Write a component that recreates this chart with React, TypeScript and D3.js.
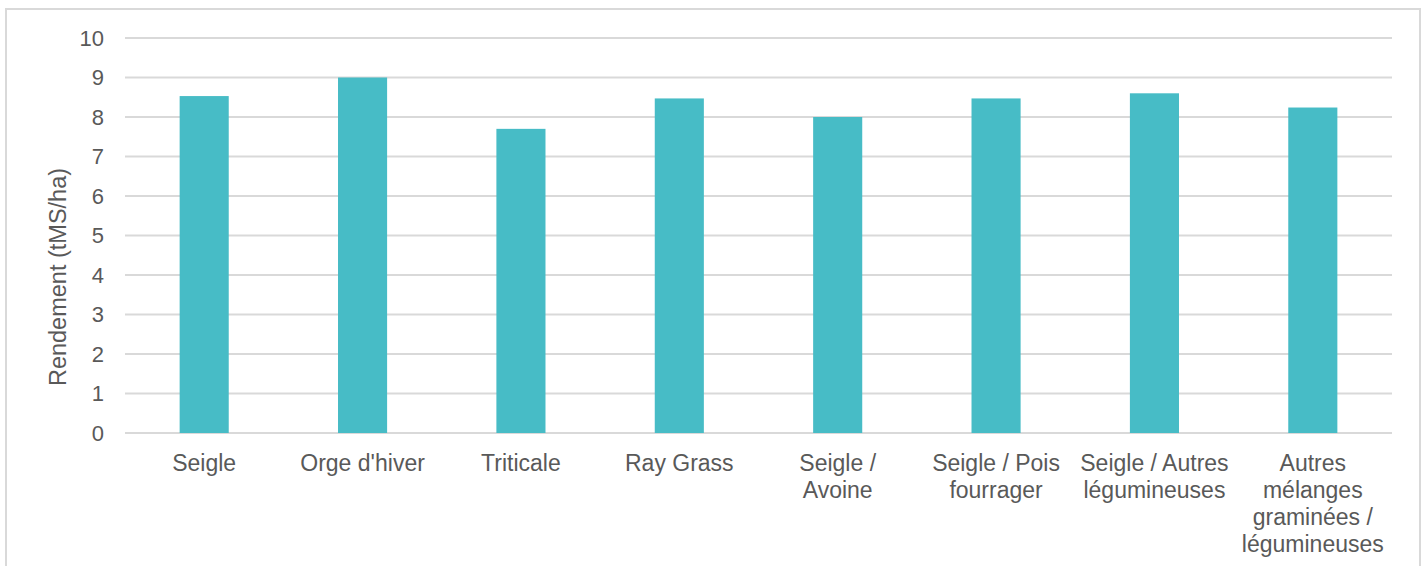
import React from "react";
import * as d3 from "d3";

const categories: string[][] = [
  ["Seigle"],
  ["Orge d'hiver"],
  ["Triticale"],
  ["Ray Grass"],
  ["Seigle /", "Avoine"],
  ["Seigle / Pois", "fourrager"],
  ["Seigle / Autres", "légumineuses"],
  ["Autres", "mélanges", "graminées /", "légumineuses"],
];
const rendement: number[] = [8.53, 9.0, 7.7, 8.47, 8.0, 8.47, 8.6, 8.24];
const yTicks: number[] = [0, 1, 2, 3, 4, 5, 6, 7, 8, 9, 10];
const yTitle = "Rendement (tMS/ha)";

const W = 1428;
const H = 566;
const plot = { left: 125, right: 1392, top: 38, bottom: 433 };
const FONT = "'Liberation Sans', Arial, sans-serif";
const TEXT = "#595959";
const GRID = "#d9d9d9";
const BAR = "#47bcc6";

export default function App() {
  const keys = categories.map((c) => c.join(" "));
  const x = d3
    .scaleBand<string>()
    .domain(keys)
    .range([plot.left, plot.right])
    .paddingInner(0.69)
    .paddingOuter(0.345);
  const y = d3.scaleLinear().domain([0, 10]).range([plot.bottom, plot.top]);

  return (
    <svg
      width={W}
      height={H}
      style={{ position: "absolute", left: 0, top: 0, background: "#fff" }}
      fontFamily={FONT}
    >
      <rect x={6} y={9} width={1414} height={H + 20} fill="#fff" stroke={GRID} strokeWidth={2} />
      {yTicks.map((t) => (
        <g key={t}>
          <line x1={plot.left} x2={plot.right} y1={y(t)} y2={y(t)} stroke={GRID} strokeWidth={2} />
          <text x={104} y={y(t)} dy="0.35em" textAnchor="end" fontSize={22} fill={TEXT}>
            {t}
          </text>
        </g>
      ))}
      {rendement.map((v, i) => (
        <rect
          key={keys[i]}
          x={x(keys[i])}
          y={y(v)}
          width={x.bandwidth()}
          height={y(0) - y(v)}
          fill={BAR}
        />
      ))}
      {categories.map((lines, i) => (
        <text
          key={keys[i]}
          x={(x(keys[i]) as number) + x.bandwidth() / 2}
          y={471}
          textAnchor="middle"
          fontSize={23}
          fill={TEXT}
        >
          {lines.map((l, j) => (
            <tspan key={j} x={(x(keys[i]) as number) + x.bandwidth() / 2} dy={j === 0 ? 0 : 27}>
              {l}
            </tspan>
          ))}
        </text>
      ))}
      <text
        transform={`translate(66, 277) rotate(-90)`}
        textAnchor="middle"
        fontSize={23.5}
        fill={TEXT}
      >
        {yTitle}
      </text>
    </svg>
  );
}
